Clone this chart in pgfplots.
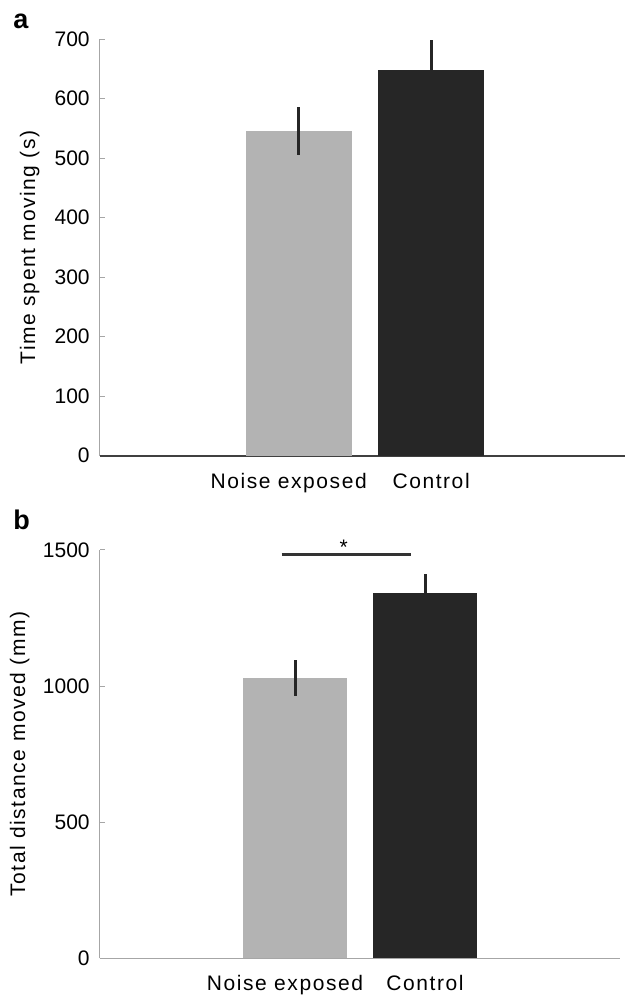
\documentclass[border=0pt]{standalone}
\usepackage{pgfplots}
\pgfplotsset{compat=1.18}
\usepackage{fontspec}
\setmainfont{Liberation Sans}
\newfontfamily\labelfont[LetterSpace=7.5]{Liberation Sans}

\definecolor{barlight}{HTML}{B3B3B3}
\definecolor{bardark}{HTML}{262626}
\definecolor{errc}{HTML}{262626}
\definecolor{axisgray}{HTML}{A6A6A6}
\definecolor{axisdark}{HTML}{404040}
\definecolor{sigc}{HTML}{333333}

\pgfplotsset{
  panel/.style={
    scale only axis,
    axis lines=left,
    axis line style={-},
    y axis line style={color=axisgray, line width=0.6pt},
    xmin=-0.5, ymin=0,
    ybar, bar width=0.8, /pgf/bar shift=0pt,
    xtick={1,2},
    xticklabels={{Noise exposed\hspace*{12pt}},{Control}},
    x tick style={draw=none},
    xticklabel style={font=\labelfont, anchor=north, inner sep=0pt, yshift=-10.2pt},
    tick align=inside,
    major tick length=3pt,
    y tick style={color=axisgray, line width=0.6pt},
    yticklabel style={anchor=east, inner sep=0pt, xshift=-6pt},
    /pgf/number format/assume math mode=true,
    /pgf/number format/1000 sep={},
    ylabel style={font=\labelfont, anchor=base},
    clip=false,
  },
  errs/.style={
    error bars/.cd, y dir=both, y explicit, error mark=none,
    error bar style={line width=1.8pt, color=errc, solid},
  },
}

\begin{document}
\fontsize{12.6}{15}\selectfont
\begin{tikzpicture}
\useasboundingbox (0,0) rectangle (375pt,-598.2pt);

% panel a: time spent moving
\begin{axis}[panel,
  at={(60pt,-273.3pt)}, anchor=south west,
  width=315pt, height=249.9pt,
  xmax=3.464, ymax=700,
  ytick={0,100,...,700},
  x axis line style={color=axisdark, line width=1.2pt},
  ylabel={Time spent moving (s)},
  ylabel style={at={(axis description cs:-0.1238,0.5)}},
]
\addplot[fill=barlight, draw=none, errs] coordinates {(1,545) +- (0,40)};
\addplot[fill=bardark, draw=none, errs] coordinates {(2,648) +- (0,50)};
\end{axis}

% panel b: total distance moved
\begin{axis}[panel,
  at={(60pt,-575pt)}, anchor=south west,
  width=312pt, height=245.1pt,
  xmax=3.5, ymax=1500,
  ytick={0,500,1000,1500},
  x axis line style={color=axisgray, line width=1pt},
  ylabel={Total distance moved (mm)},
  ylabel style={at={(axis description cs:-0.1442,0.5)}},
]
\addplot[fill=barlight, draw=none, errs] coordinates {(1,1030) +- (0,65)};
\addplot[fill=bardark, draw=none, errs] coordinates {(2,1340) +- (0,70)};
\draw[line width=1.8pt, color=sigc] (axis cs:0.898,1482) -- (axis cs:1.892,1482);
\node[anchor=base, inner sep=0pt] at (axis cs:1.375,1482) {*};
\end{axis}

\node[anchor=base west, inner sep=0pt, font=\fontsize{16.2}{18}\selectfont\bfseries] at (7.8pt,-16.8pt) {a};
\node[anchor=base west, inner sep=0pt, font=\fontsize{16.2}{18}\selectfont\bfseries] at (7.8pt,-317.4pt) {b};
\end{tikzpicture}
\end{document}
